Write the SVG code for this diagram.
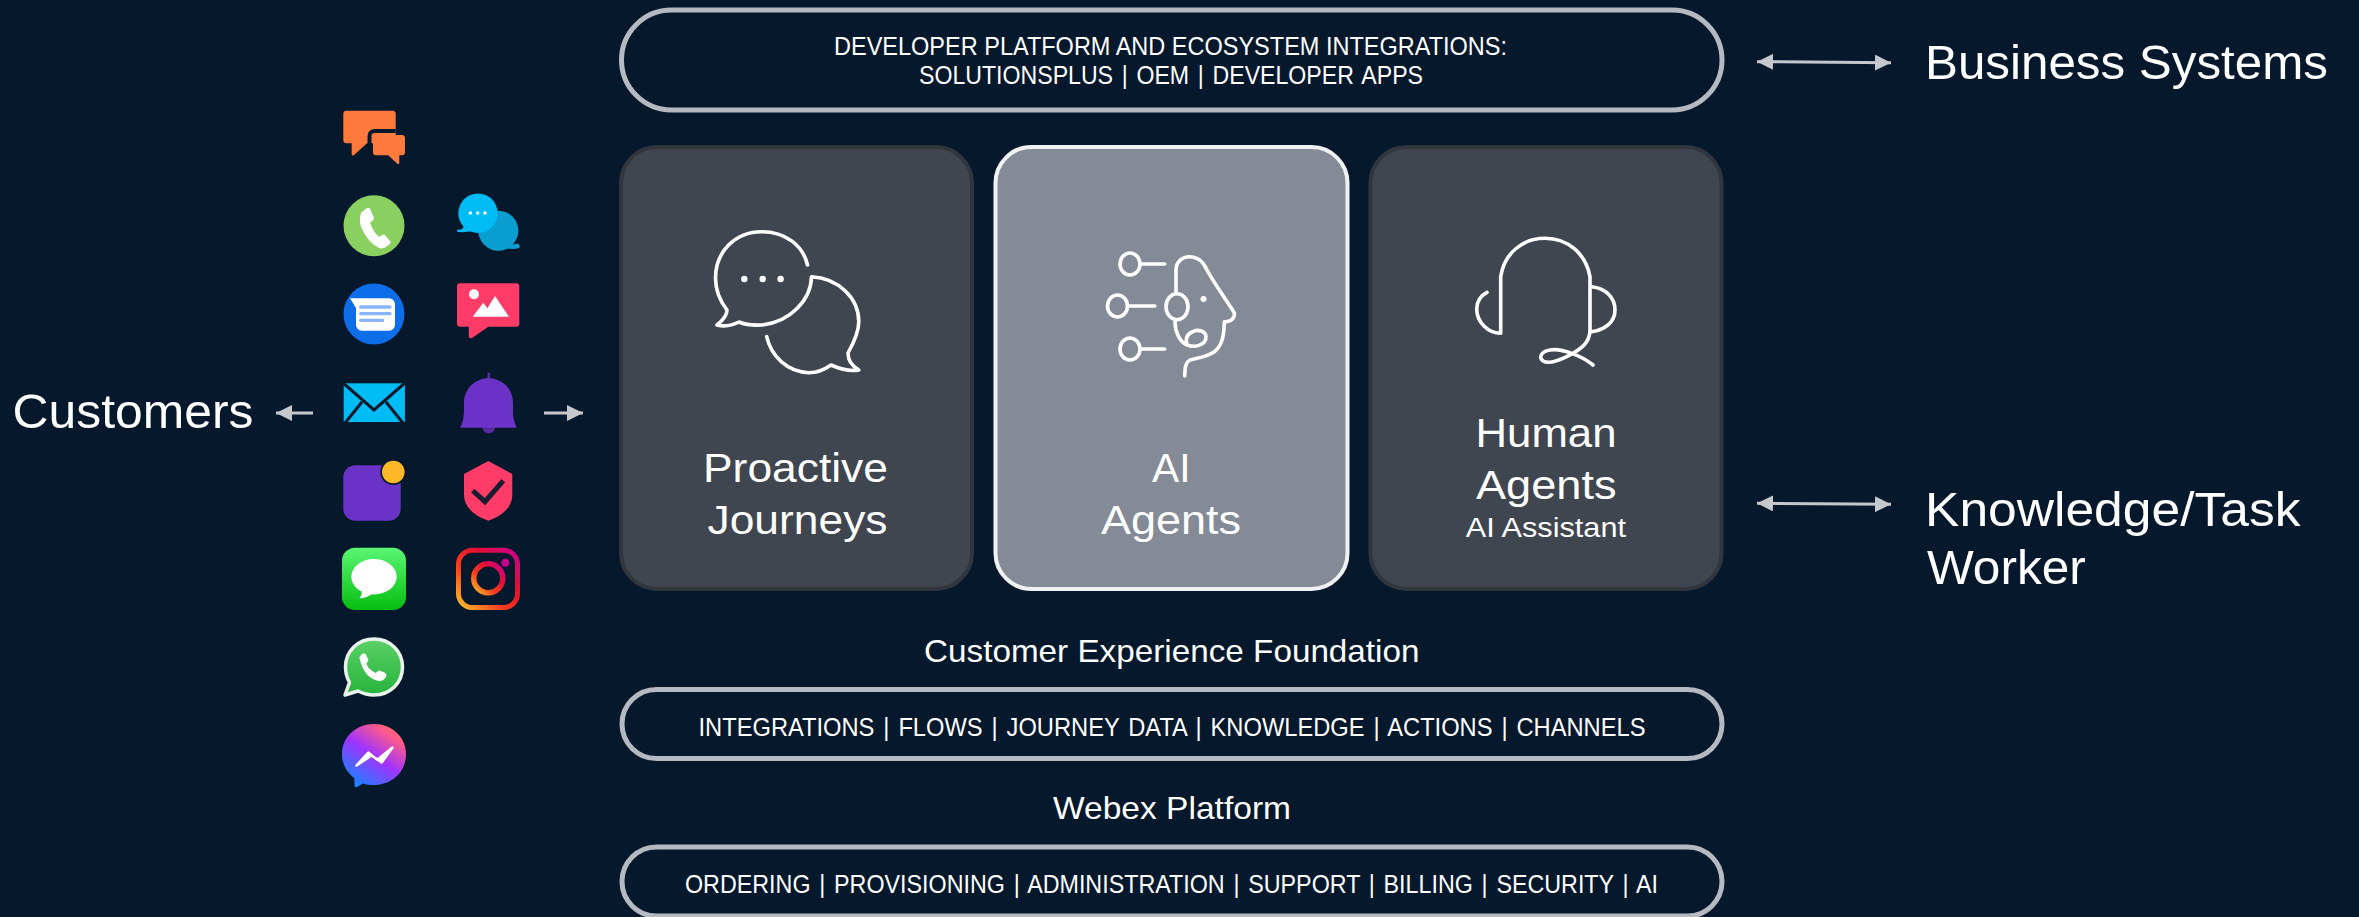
<svg xmlns="http://www.w3.org/2000/svg" width="2359" height="917" viewBox="0 0 2359 917">
<style>
text{font-family:"Liberation Sans",Arial,sans-serif;fill:#fff}
.pill{fill:none;stroke:#b5bac2;stroke-width:5}
.pt{font-size:25.500px}
.ws{word-spacing:2.500px}
.ht{font-size:32px}
.lg{font-size:48.500px}
.ct{font-size:41.500px}
.ln{fill:none;stroke:#fff;stroke-width:3.600;stroke-linecap:round;stroke-linejoin:round}
.arr{stroke:#c5c8cd;stroke-width:3;fill:none}
.dk{fill:#3f4650;stroke:#31363e;stroke-width:4}
.lt{fill:#848a96;stroke:#f0f1f3;stroke-width:4}
</style>
<defs>
<marker id="ah" markerUnits="userSpaceOnUse" markerWidth="16" markerHeight="16" refX="16" refY="8" orient="auto-start-reverse"><path d="M0 0L16 8L0 16z" fill="#c5c8cd"/></marker>
<linearGradient id="gIm" x1="0" y1="0" x2="0" y2="1"><stop offset="0" stop-color="#5bf675"/><stop offset="1" stop-color="#05be0f"/></linearGradient>
<linearGradient id="gIg" x1="0" y1="1" x2="1" y2="0"><stop offset="0" stop-color="#fdc12c"/><stop offset=".35" stop-color="#f6401c"/><stop offset=".65" stop-color="#e5102f"/><stop offset="1" stop-color="#c8008f"/></linearGradient>
<linearGradient id="gWa" x1="0" y1="0" x2="0" y2="1"><stop offset="0" stop-color="#5bd066"/><stop offset="1" stop-color="#27b43e"/></linearGradient>
<linearGradient id="gMs" x1="0.15" y1="1" x2="0.85" y2="0"><stop offset="0" stop-color="#0a8cff"/><stop offset=".5" stop-color="#a033ff"/><stop offset=".85" stop-color="#ff5c87"/><stop offset="1" stop-color="#ff7061"/></linearGradient>
</defs>
<rect width="2359" height="917" fill="#06182c"/>

<g id="connectors">
<line class="arr" x1="313" y1="413" x2="276" y2="413" marker-end="url(#ah)"/>
<line class="arr" x1="544" y1="413" x2="583" y2="413" marker-end="url(#ah)"/>
<line class="arr" x1="1757" y1="61.700" x2="1891" y2="62.700" marker-start="url(#ah)" marker-end="url(#ah)"/>
<line class="arr" x1="1757" y1="503.300" x2="1891" y2="504.300" marker-start="url(#ah)" marker-end="url(#ah)"/>
</g>

<g id="pill-developer">
<rect class="pill" x="621.500" y="10" width="1100.500" height="100" rx="50"/>
<text class="pt" x="834" y="55" textLength="673" lengthAdjust="spacingAndGlyphs">DEVELOPER PLATFORM AND ECOSYSTEM INTEGRATIONS:</text>
<text class="pt ws" x="919" y="83.500" textLength="504" lengthAdjust="spacingAndGlyphs">SOLUTIONSPLUS | OEM | DEVELOPER APPS</text>
</g>

<g id="card-proactive">
<rect class="dk" x="621" y="147" width="351" height="442" rx="36"/>
<path class="ln" d="M807.500 265C803 245 785 231.700 761.700 231.700C735 231.700 715.500 252 715.500 278C715.500 290 720 301 727 310C727 316 722 321 717 325C725 327 733 325 739 322C746 325 754 325.500 762 325C790 322 811 300 811.500 276.700C838 278 858.800 298 858.800 321.700C858.800 333 853 344 848 353C848 361 852 366 858.800 370C849 372 840 369 831 365C824 370 817 372.700 809 372.700C787 372 771 356 766.700 336.700"/>
<circle cx="744.300" cy="279" r="3.200" fill="#fff"/><circle cx="762.700" cy="279" r="3.200" fill="#fff"/><circle cx="780.600" cy="279" r="3.200" fill="#fff"/>
<text class="ct" x="703" y="482.300" textLength="185" lengthAdjust="spacingAndGlyphs">Proactive</text>
<text class="ct" x="707.500" y="534" textLength="180" lengthAdjust="spacingAndGlyphs">Journeys</text>
</g>

<g id="card-ai">
<rect class="lt" x="995.500" y="147" width="352" height="442" rx="36"/>
<g class="ln">
<ellipse cx="1130" cy="264" rx="10" ry="11"/><path d="M1140 264H1164.700"/>
<ellipse cx="1117.500" cy="306" rx="10" ry="11"/><path d="M1127.500 306H1154.800"/>
<ellipse cx="1130" cy="349" rx="10" ry="11"/><path d="M1140 349H1164.700"/>
<path d="M1176 293V270C1176 262 1182 256.700 1189.600 256.700C1197 256.700 1203 261 1207 270C1215 285 1230 305 1234.400 313C1235 319 1230 322 1224.400 321.700C1224 330 1224 345 1214 352C1205 358 1195 358 1190 360C1186 362 1185 366 1184.700 376"/>
<ellipse cx="1177" cy="306.700" rx="11" ry="13"/>
<path d="M1175 321.700C1175 332 1180 342 1187 345C1195 348 1206 345 1206 337C1206 331 1198 329 1193 331.500C1187 334 1185 338 1187 345"/>
</g>
<circle cx="1203.500" cy="299" r="3" fill="#fff"/>
<text class="ct" x="1152" y="482.300" textLength="38.500" lengthAdjust="spacingAndGlyphs">AI</text>
<text class="ct" x="1101" y="534" textLength="140" lengthAdjust="spacingAndGlyphs">Agents</text>
</g>

<g id="card-human">
<rect class="dk" x="1370.500" y="147" width="351" height="442" rx="36"/>
<path class="ln" d="M1487 292.300C1480 296 1476.700 302 1476.700 309C1476.700 322 1488 333.300 1500.700 333.300V276.700C1504 254 1522 238.300 1545 238.300C1568 238.300 1586 254 1590 276.700V330C1590 342 1582 349 1566.700 356.700C1558 361 1548 364 1543 361C1538 357 1542 351 1550 350C1562 348 1582 356 1593 365M1591.700 286.700C1605 288 1615 297 1615 310C1615 322 1605 330 1591.700 331.700"/>
<text class="ct" x="1475.500" y="446.700" textLength="141" lengthAdjust="spacingAndGlyphs">Human</text>
<text class="ct" x="1476" y="498.700" textLength="140.500" lengthAdjust="spacingAndGlyphs">Agents</text>
<text x="1465.700" y="537.300" font-size="27.500" textLength="160.300" lengthAdjust="spacingAndGlyphs">AI Assistant</text>
</g>

<g id="heading-foundation"><text class="ht" x="924" y="661.700" textLength="495.500" lengthAdjust="spacingAndGlyphs">Customer Experience Foundation</text></g>
<g id="pill-foundation">
<rect class="pill" x="622" y="689.500" width="1100" height="69" rx="34.500"/>
<text class="pt ws" x="698.500" y="735.700" textLength="947" lengthAdjust="spacingAndGlyphs">INTEGRATIONS | FLOWS | JOURNEY DATA | KNOWLEDGE | ACTIONS | CHANNELS</text>
</g>
<g id="heading-webex"><text class="ht" x="1053" y="819" textLength="238" lengthAdjust="spacingAndGlyphs">Webex Platform</text></g>
<g id="pill-webex">
<rect class="pill" x="622" y="847" width="1100" height="69" rx="34.500"/>
<text class="pt ws" x="685" y="892.700" textLength="973" lengthAdjust="spacingAndGlyphs">ORDERING | PROVISIONING | ADMINISTRATION | SUPPORT | BILLING | SECURITY | AI</text>
</g>

<g id="label-customers"><text class="lg" x="12.500" y="428.300" textLength="241" lengthAdjust="spacingAndGlyphs">Customers</text></g>
<g id="label-business"><text class="lg" x="1925" y="79.300" textLength="403" lengthAdjust="spacingAndGlyphs">Business Systems</text></g>
<g id="label-worker">
<text class="lg" x="1925" y="525.700" textLength="375.500" lengthAdjust="spacingAndGlyphs">Knowledge/Task</text>
<text class="lg" x="1927" y="584" textLength="158.700" lengthAdjust="spacingAndGlyphs">Worker</text>
</g>

<g id="icon-chat">
<path d="M346.500 110.700H392.500a3.200 3.200 0 0 1 3.200 3.200V143.300H367L353.500 155.500Q351.700 156 351.700 154V143.300H346.500a3.200 3.200 0 0 1-3.200-3.200V113.900a3.200 3.200 0 0 1 3.200-3.200z" fill="#ff7a3d"/>
<path d="M369.500 146V136a5 5 0 0 1 5-5H395.700" fill="none" stroke="#06182c" stroke-width="4"/>
<path d="M376 135H402a3 3 0 0 1 3 3V152.300a3 3 0 0 1-3 3H399.300V163Q399 165 397 163.500L388.300 155.300H376a3 3 0 0 1-3-3V138a3 3 0 0 1 3-3z" fill="#ff7a3d"/>
</g>
<g id="icon-phone">
<circle cx="374" cy="225.700" r="30.500" fill="#8ad060"/>
<path d="M362.500 211.500l4.500-3.500q2-1 3 .800l3.800 8.700q.6 2-1 3l-2.800 2q3 9 9 14.500l3-2q1.800-1 3.300.5l5 5.800q1 1.800-.8 3l-4 3q-3 2-7 .5q-11-5.500-17.500-21q-2.500-8 .5-14.800z" fill="#fff"/>
</g>
<g id="icon-webchat">
<circle cx="498.300" cy="230.700" r="20" fill="#0a9fd0"/>
<path d="M508 244Q513 245 518 243.500Q521 246 519 248Q513 250 505 248z" fill="#0a9fd0"/>
<circle cx="478" cy="213.300" r="19.700" fill="#00bcf5"/>
<path d="M464 226Q462 231 457.500 229.500Q456 232 459 232Q466 232.500 472 231z" fill="#00bcf5"/>
<circle cx="470.300" cy="213" r="1.700" fill="#fff"/><circle cx="477.700" cy="213" r="1.700" fill="#fff"/><circle cx="485" cy="213" r="1.700" fill="#fff"/>
</g>
<g id="icon-sms">
<circle cx="374" cy="314" r="30.500" fill="#0e6de8"/>
<path d="M350 298.300H389a6 6 0 0 1 6 6V324.700a6 6 0 0 1-6 6H362a6 6 0 0 1-6-6V308z" fill="#fff"/>
<path d="M360.700 307H390M360.700 313.700H390M360.700 320.300H382.700" stroke="#8ab4f8" stroke-width="3.300" stroke-linecap="round"/>
</g>
<g id="icon-mms">
<path d="M460 283.300H516.300a3 3 0 0 1 3 3V323.700a3 3 0 0 1-3 3H488.300L472 338Q469 339 468.800 336V326.700H460a3 3 0 0 1-3-3V286.300a3 3 0 0 1 3-3z" fill="#ff3b68"/>
<circle cx="474" cy="294.300" r="5" fill="#fff"/>
<path d="M472.700 316.700L483.300 302.700L487.300 308.300L495 296L509 316.700z" fill="#fff"/>
</g>
<g id="icon-mail">
<rect x="343.700" y="383.300" width="61.200" height="38.700" fill="#00bcf5"/>
<path d="M342 382L374 410L406 382M345 423L362 402M403 423L386 402" fill="none" stroke="#06182c" stroke-width="3"/>
</g>
<g id="icon-bell">
<rect x="487.500" y="372.700" width="2.600" height="8" fill="#56299f"/>
<circle cx="488.700" cy="427" r="6.500" fill="#56299f"/>
<path d="M464 403C464 389 475 378.300 488.700 378.300C502.500 378.300 513 389 513 403V412Q513 420 516.600 427.700H460.400Q464 420 464 412z" fill="#6b32c8"/>
</g>
<g id="icon-notify">
<rect x="343.300" y="465.300" width="57.400" height="55.400" rx="12" fill="#6b32c8"/>
<circle cx="393.300" cy="472" r="13" fill="#06182c"/>
<circle cx="393.300" cy="472" r="11.300" fill="#fdb827"/>
</g>
<g id="icon-shield">
<path d="M488.300 461L512.300 474V495C512.300 507 502 516 488.300 520.700C474.500 516 464 507 464 495V474z" fill="#ff3b68"/>
<path d="M472.700 490.700L485 501.700L503.300 480.700" fill="none" stroke="#1a1c30" stroke-width="5"/>
</g>
<g id="icon-imessage">
<rect x="342" y="547.700" width="64" height="62.300" rx="13" fill="url(#gIm)"/>
<ellipse cx="374" cy="576.700" rx="22.700" ry="17.700" fill="#fff"/>
<path d="M362 590Q362 595 359.500 598.500Q366 598 372 594z" fill="#fff"/>
</g>
<g id="icon-instagram">
<rect x="458.500" y="550.200" width="59" height="57.300" rx="14" fill="none" stroke="url(#gIg)" stroke-width="5"/>
<circle cx="488.300" cy="578.300" r="14.500" fill="none" stroke="url(#gIg)" stroke-width="5.500"/>
<circle cx="505.300" cy="562.700" r="4" fill="#c8008f"/>
</g>
<g id="icon-whatsapp">
<path d="M374 639C390 639 402.500 651 402.500 667C402.500 683 390 695 374 695C368 695 363 693.500 358 691L345 695L349.500 682.500C347 678 345.500 673 345.500 667C345.500 651 358 639 374 639z" fill="url(#gWa)" stroke="#e9f2ec" stroke-width="3.500" stroke-linejoin="round"/>
<path d="M359.500 658q0-2.500 3.500-4.500q2-.5 2.800 1l2.500 5q.5 1.500-2 4q2.500 6.500 9.500 9.500q2.500-3 4-2.500l5.500 2.500q1.500 1 1 3q-2 5-7 5q-15-2-19.800-23z" fill="#fff"/>
</g>
<g id="icon-messenger">
<path d="M374 724C392 724 406 737 406 754C406 772 392 785 374 785C370 785 366 784.500 363 783.500L356.500 787.300Q354.500 787.500 354.500 785.500L354.300 778C347 772.500 342 764 342 754C342 737 356 724 374 724z" fill="url(#gMs)"/>
<path d="M356.500 765.500L368.300 752.500L377.300 759.800L392.500 747.500L381.700 762.500L371.700 755.500z" fill="#fff" stroke="#fff" stroke-width="2.500" stroke-linejoin="round"/>
</g>
</svg>
